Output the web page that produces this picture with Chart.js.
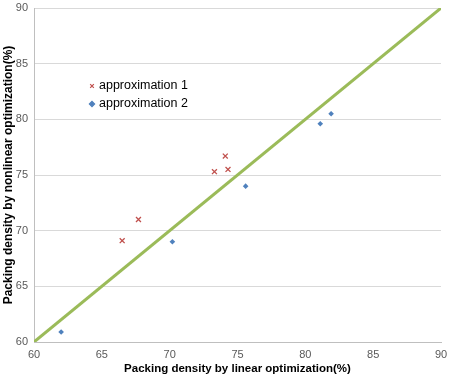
<!DOCTYPE html>
<html>
<head>
<meta charset="utf-8">
<script src="https://cdn.jsdelivr.net/npm/chart.js@4/dist/chart.umd.min.js"></script>
<style>
  html, body { margin: 0; padding: 0; background: #fff; }
  #wrap { width: 451px; height: 382px; }
</style>
</head>
<body>
<div id="wrap"><canvas id="chart" width="451" height="382"></canvas></div>
<script>
// values
const approx1X = [66.5, 67.7, 73.3, 74.1, 74.3];
const approx1Y = [69.1, 71.0, 75.3, 76.7, 75.5];
const approx2X = [62.0, 70.2, 75.6, 81.1, 81.9];
const approx2Y = [60.9, 69.0, 74.0, 79.6, 80.5];
const diagX    = [60, 90];
const diagY    = [60, 90];
const axisMin  = 60;
const axisMax  = 90;
const axisStep = 5;

const RED   = '#C0504D';
const BLUE  = '#4F81BD';
const GREEN = '#9BBB59';
const FONT  = '"Liberation Sans", Arial, sans-serif';

const toPoints = (xs, ys) => xs.map((x, i) => ({ x, y: ys[i] }));

/* ----------------------------------------------------------
   Legend drawn inside the plot, top-left like the original
   ---------------------------------------------------------- */
const insideLegend = {
  id: 'insideLegend',
  afterDraw(chart) {
    const ctx = chart.ctx;
    const items = chart.data.datasets.filter(d => d.showInLegend);
    ctx.save();
    ctx.font = '12.5px ' + FONT;
    ctx.textBaseline = 'middle';
    items.forEach((d, i) => {
      const y = 86 + i * 18;
      ctx.fillStyle   = d.backgroundColor;
      ctx.strokeStyle = d.borderColor;
      ctx.lineWidth   = 1.2;
      Chart.helpers.drawPoint(ctx, {
        pointStyle: d.pointStyle, radius: 2.6, borderWidth: 1.2, rotation: 0
      }, 92, y);
      ctx.fillStyle = '#000';
      ctx.fillText(d.label, 99, y);
    });
    ctx.restore();
  }
};

new Chart(document.getElementById('chart'), {
  type: 'scatter',
  data: {
    datasets: [
      {
        label: 'diagonal',
        type: 'line',
        data: toPoints(diagX, diagY),
        borderColor: GREEN,
        borderWidth: 3,
        pointRadius: 0,
        order: 2,
      },
      {
        label: 'approximation 1',
        data: toPoints(approx1X, approx1Y),
        pointStyle: 'crossRot',
        pointRadius: 3.5,
        borderColor: RED,
        backgroundColor: RED,
        borderWidth: 1.3,
        showInLegend: true,
        order: 1,
      },
      {
        label: 'approximation 2',
        data: toPoints(approx2X, approx2Y),
        pointStyle: 'rectRot',
        pointRadius: 2.8,
        borderColor: BLUE,
        backgroundColor: BLUE,
        borderWidth: 0,
        showInLegend: true,
        order: 1,
      },
    ],
  },
  options: {
    responsive: false,
    animation: false,
    layout: { padding: { top: 8, right: 10, left: 0, bottom: 0 } },
    plugins: {
      legend:  { display: false },
      tooltip: { enabled: false },
    },
    scales: {
      x: {
        type: 'linear',
        min: axisMin, max: axisMax,
        afterFit: s => { s.height = 40; s.paddingRight = 0; s.paddingLeft = 0; },
        ticks: { stepSize: axisStep, color: '#595959', padding: 6, font: { size: 11, family: FONT } },
        grid:  { display: false, drawTicks: false },
        border: { display: true, color: '#BFBFBF', width: 1 },
        title: {
          display: true,
          text: 'Packing density by linear optimization(%)',
          color: '#000',
          font: { size: 11.5, weight: 'bold', family: FONT },
          padding: { top: 0, bottom: 6 },
        },
      },
      y: {
        type: 'linear',
        min: axisMin, max: axisMax,
        afterFit: s => { s.width = 34; s.paddingTop = 0; s.paddingBottom = 0; },
        ticks: { stepSize: axisStep, color: '#595959', padding: 6, font: { size: 11, family: FONT } },
        grid:  { color: '#D9D9D9', drawTicks: false },
        border: { display: true, color: '#BFBFBF', width: 1 },
        title: {
          display: true,
          text: 'Packing density by nonlinear optimization(%)',
          color: '#000',
          font: { size: 12, weight: 'bold', family: FONT },
          padding: { top: 1, bottom: 0 },
        },
      },
    },
  },
  plugins: [insideLegend],
});
</script>
</body>
</html>
